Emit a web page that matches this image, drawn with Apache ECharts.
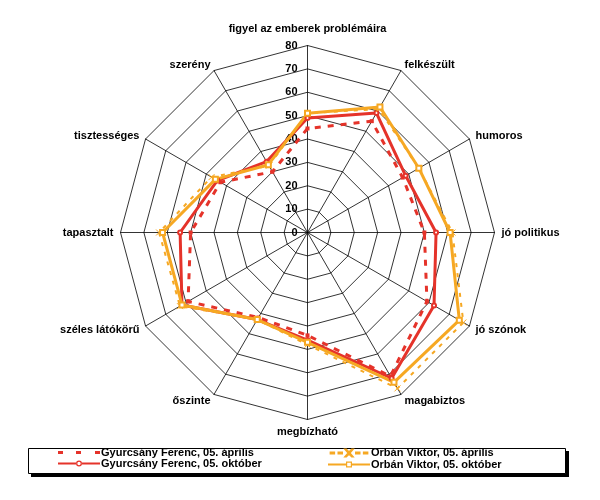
<!DOCTYPE html>
<html>
<head>
<meta charset="utf-8">
<script src="https://cdn.jsdelivr.net/npm/echarts@6/dist/echarts.min.js"></script>
<style>html,body{margin:0;padding:0;background:#fff;}#c{width:600px;height:500px;}</style>
</head>
<body>
<div id="c"></div>
<script>
// Indicators listed clockwise from the top
const indicators = ['figyel az emberek problémáira','felkészült','humoros','jó politikus','jó szónok','magabiztos','megbízható','őszinte','széles látókörű','tapasztalt','tisztességes','szerény'];
const axisMax = 80;
const seriesNames = ['Gyurcsány Ferenc, 05. április','Gyurcsány Ferenc, 05. október','Orbán Viktor, 05. április','Orbán Viktor, 05. október'];
const gyurcsanyApr = [44.5, 55, 47, 50, 59, 71, 44, 42, 59, 50, 43, 30];
const gyurcsanyOkt = [49, 59, 48.5, 55, 62.5, 72, 46, 43, 62, 54.5, 44.5, 35];
const orbanApr = [51, 61, 55, 62, 77, 77, 48, 43, 63, 63.5, 47.4, 33];
const orbanOkt = [51, 62, 55, 61, 75, 74, 47, 43, 62, 62, 45.5, 33.5];

const RED = '#E5332A';
const ORANGE = '#F6A823';
const FONT = 'Liberation Sans, Arial, sans-serif';

// ECharts radar runs counter-clockwise; reorder so the picture runs clockwise
const order = indicators.map((_, k) => (indicators.length - k) % indicators.length);
const reorder = arr => order.map(i => arr[i]);

const icons = {
  redDash: 'path://M0,0h5v3h-5z M18,0h5v3h-5z M37,0h5v3h-5z',
  redSolid: 'path://M0,2h18.2v2h-18.2z M23.8,2h18.2v2h-18.2z M18,3a3,3 0 1,0 6,0a3,3 0 1,0 -6,0z M19.3,3a1.7,1.7 0 1,1 3.4,0a1.7,1.7 0 1,1 -3.4,0z',
  orDash: 'path://M0,3.3h4v1.4h-4z M9,3.3h4v1.4h-4z M29,3.3h4v1.4h-4z M38,3.3h4v1.4h-4z M17,0L17.8,0L21,3.4L24.2,0L25,0L21.5,4L25,8L24.2,8L21,4.6L17.8,8L17,8L20.5,4Z',
  orSolid: 'path://M0,3h18v2h-18z M24,3h18v2h-18z M18,1h6v6h-6z M19.2,2.2v3.6h3.6v-3.6z'
};

const legendText = {fontFamily: FONT, fontSize: 11, fontWeight: 'bold', color: '#000', padding: [0,0,0,-4]};

const chart = echarts.init(document.getElementById('c'), null, {renderer: 'canvas'});
chart.setOption({
  animation: false,
  backgroundColor: '#fff',
  radar: {
    center: [307.5, 232.5],
    radius: 187,
    startAngle: 90,
    splitNumber: 8,
    shape: 'polygon',
    nameGap: 7,
    axisName: {
      color: '#000', fontFamily: FONT, fontSize: 11, fontWeight: 'bold',
      formatter: n => n === indicators[0] ? '{t|' + n + '}' : n,
      rich: {t: {color: '#000', fontFamily: FONT, fontSize: 11, fontWeight: 'bold', padding: [0, 0, 4, 0]}}
    },
    splitArea: {show: false},
    splitLine: {lineStyle: {color: '#000', width: 0.8}},
    axisLine: {lineStyle: {color: '#000', width: 0.8}},
    axisTick: {show: false},
    axisLabel: {show: false},
    indicator: reorder(indicators).map((n, i) => i === 0 ? {name: n, min: 0, max: axisMax,
      axisLabel: {show: true, color: '#000', fontFamily: FONT, fontSize: 11, fontWeight: 'bold', margin: 10, align: 'right'}} :
      {name: n, min: 0, max: axisMax})
  },
  legend: [{
    data: [{name: seriesNames[0], icon: icons.redDash}, {name: seriesNames[1], icon: icons.redSolid}],
    orient: 'vertical', padding: 0,
    left: 58, top: 447,
    itemGap: 0, itemWidth: 42, itemHeight: 6,
    textStyle: legendText
  }, {
    data: [{name: seriesNames[2], icon: icons.orDash}, {name: seriesNames[3], icon: icons.orSolid}],
    orient: 'vertical', padding: 0,
    left: 328, top: 447,
    itemGap: 0, itemWidth: 42, itemHeight: 7,
    textStyle: legendText
  }],
  graphic: [{
    type: 'rect', z: -2, silent: true,
    shape: {x: 31, y: 451, width: 538, height: 26},
    style: {fill: '#000'}
  }, {
    type: 'rect', z: -1, silent: true,
    shape: {x: 28.5, y: 448.5, width: 537, height: 25},
    style: {fill: '#fff', stroke: '#000', lineWidth: 1}
  }],
  series: [{
    type: 'radar',
    data: [
      {name: seriesNames[0], value: reorder(gyurcsanyApr), symbol: 'rect', symbolSize: 4,
        lineStyle: {color: RED, width: 3, type: [6, 7]}, itemStyle: {color: RED}},
      {name: seriesNames[1], value: reorder(gyurcsanyOkt), symbol: 'emptyCircle', symbolSize: 4,
        lineStyle: {color: RED, width: 3}, itemStyle: {color: RED, borderWidth: 1}},
      {name: seriesNames[2], value: reorder(orbanApr), symbol: 'path://M0,0L10,10M10,0L0,10', symbolSize: 6,
        lineStyle: {color: ORANGE, width: 2, type: [4, 6]}, itemStyle: {color: 'none', borderColor: ORANGE, borderWidth: 1}},
      {name: seriesNames[3], value: reorder(orbanOkt), symbol: 'emptyRect', symbolSize: 5,
        lineStyle: {color: ORANGE, width: 3}, itemStyle: {color: ORANGE, borderWidth: 1}}
    ]
  }]
});
</script>
</body>
</html>
